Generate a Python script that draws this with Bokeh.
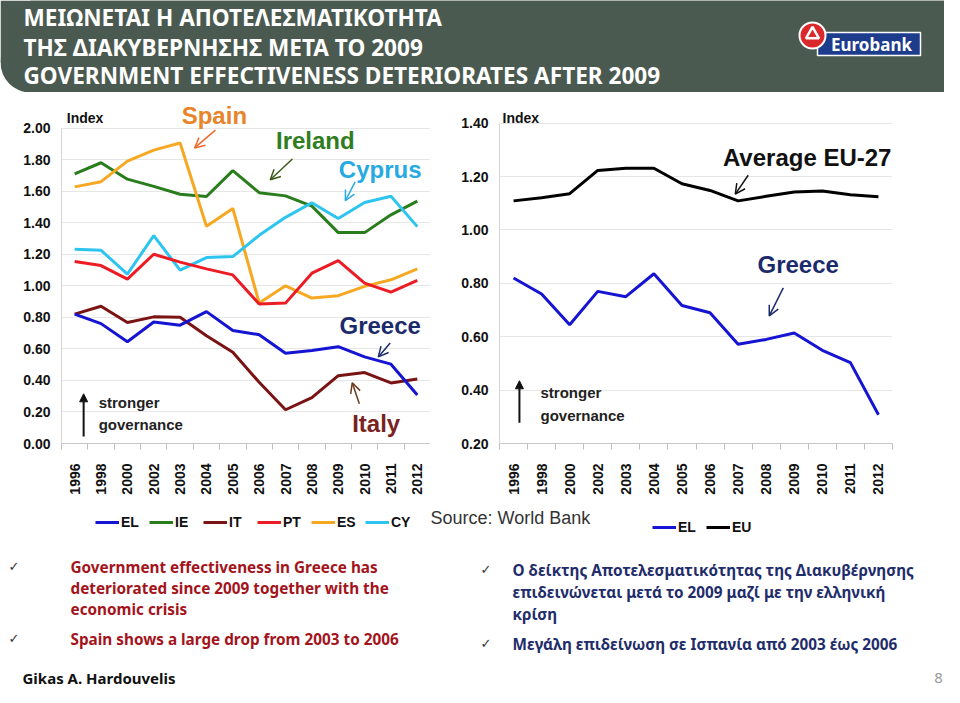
import math
from bokeh.plotting import figure
from bokeh.models import (Range1d, FixedTicker, Label, Arrow, OpenHead, NormalHead,
                          Legend, LegendItem, NumeralTickFormatter)
from bokeh.layouts import column, row
from bokeh.embed import file_html
from bokeh.resources import INLINE

# ---------------- data ----------------
years = ["1996", "1998", "2000", "2002", "2003", "2004", "2005", "2006",
         "2007", "2008", "2009", "2010", "2011", "2012"]
el = [0.82, 0.76, 0.645, 0.77, 0.75, 0.836, 0.717, 0.69, 0.572, 0.59, 0.614, 0.549, 0.503, 0.308]
ie = [1.71, 1.78, 1.676, 1.63, 1.58, 1.566, 1.73, 1.59, 1.57, 1.505, 1.337, 1.337, 1.45, 1.537]
it = [0.82, 0.87, 0.767, 0.803, 0.80, 0.683, 0.579, 0.388, 0.214, 0.291, 0.43, 0.45, 0.384, 0.409]
pt = [1.154, 1.128, 1.042, 1.20, 1.15, 1.107, 1.069, 0.885, 0.89, 1.08, 1.16, 1.017, 0.96, 1.034]
es = [1.627, 1.66, 1.79, 1.86, 1.905, 1.377, 1.49, 0.891, 1.0, 0.922, 0.937, 0.996, 1.038, 1.107]
cy = [1.232, 1.225, 1.074, 1.318, 1.099, 1.179, 1.185, 1.32, 1.434, 1.526, 1.427, 1.528, 1.568, 1.375]
eu = [1.109, 1.121, 1.136, 1.223, 1.231, 1.231, 1.173, 1.148, 1.109, 1.126, 1.142, 1.146, 1.132, 1.124]

left_ticks = [0.0, 0.2, 0.4, 0.6, 0.8, 1.0, 1.2, 1.4, 1.6, 1.8, 2.0]
right_ticks = [0.2, 0.4, 0.6, 0.8, 1.0, 1.2, 1.4]

left_series = [("EL", el, "#1414d2"), ("IE", ie, "#2a7d1c"), ("IT", it, "#7a1414"),
               ("PT", pt, "#ec1c24"), ("ES", es, "#f7a823"), ("CY", cy, "#2ec4f0")]
right_series = [("EL", el, "#1414d2"), ("EU", eu, "#000000")]

title_lines = ["ΜΕΙΩΝΕΤΑΙ Η ΑΠΟΤΕΛΕΣΜΑΤΙΚΟΤΗΤΑ",
               "ΤΗΣ ΔΙΑΚΥΒΕΡΝΗΣΗΣ  ΜΕΤΑ ΤΟ 2009",
               "GOVERNMENT EFFECTIVENESS DETERIORATES AFTER 2009"]
bullets_en = ["Government effectiveness in Greece has",
              "deteriorated since 2009  together with the",
              "economic crisis",
              "Spain shows a large drop from 2003 to 2006"]
bullets_gr = ["Ο δείκτης Αποτελεσματικότητας της Διακυβέρνησης",
              "επιδεινώνεται μετά το 2009 μαζί με την ελληνική",
              "κρίση",
              "Μεγάλη επιδείνωση σε Ισπανία από 2003 έως 2006"]

FONT = "Liberation Sans"
SLIDE_FONT = "Noto Sans"
idx = list(range(len(years)))
NAN = float("nan")


def make_chart(width, height, yr, ybounds, yticks, borders):
    p = figure(width=width, height=height,
               x_range=Range1d(-0.5, len(years) - 0.5), y_range=Range1d(*yr),
               output_backend="svg", toolbar_location=None,
               min_border_left=borders[0], min_border_right=borders[1],
               min_border_top=borders[2], min_border_bottom=borders[3])
    p.outline_line_color = None
    p.background_fill_color = "white"
    p.border_fill_color = "white"
    p.xgrid.visible = False
    p.ygrid.ticker = FixedTicker(ticks=yticks)
    p.ygrid.grid_line_color = "#e6e6e6"
    xa = p.xaxis[0]
    xa.ticker = FixedTicker(ticks=idx, minor_ticks=[i - 0.5 for i in range(len(years) + 1)])
    xa.major_label_overrides = {i: y for i, y in enumerate(years)}
    xa.major_label_orientation = math.pi / 2
    xa.major_tick_line_color = None
    xa.major_tick_out = 0
    xa.major_tick_in = 0
    xa.minor_tick_line_color = "#c0c0c0"
    xa.minor_tick_out = 6
    xa.minor_tick_in = 0
    xa.axis_line_color = "#c8c8c8"
    xa.major_label_standoff = 14
    xa.major_label_text_font = FONT
    xa.major_label_text_font_style = "bold"
    xa.major_label_text_font_size = "14px"
    xa.major_label_text_color = "#111111"
    ya = p.yaxis[0]
    ya.ticker = FixedTicker(ticks=yticks)
    ya.formatter = NumeralTickFormatter(format="0.00")
    ya.bounds = ybounds
    ya.axis_line_color = "#d4d4d4"
    ya.major_tick_line_color = None
    ya.minor_tick_line_color = None
    ya.major_tick_out = 0
    ya.major_label_standoff = 11
    ya.major_label_text_font = FONT
    ya.major_label_text_font_style = "bold"
    ya.major_label_text_font_size = "14px"
    ya.major_label_text_color = "#111111"
    return p


def add_label(p, text, x, y, color, size="24px", align="center", style="bold", font=FONT,
              baseline="middle"):
    p.add_layout(Label(x=x, y=y, text=text, text_color=color, text_font=font,
                       text_font_size=size, text_font_style=style,
                       text_align=align, text_baseline=baseline))


def add_arrow(p, xs, ys, xe, ye, color, width=1.5, filled=False):
    if filled:
        head = NormalHead(size=8, fill_color=color, line_color=color)
    else:
        head = OpenHead(size=10, line_color=color, line_width=width)
    p.add_layout(Arrow(end=head, x_start=xs, y_start=ys, x_end=xe, y_end=ye,
                       line_color=color, line_width=width))


def add_legend(p, renderers, labels, loc):
    items = [LegendItem(label=l, renderers=[r]) for l, r in zip(labels, renderers)]
    lg = Legend(items=items, orientation="horizontal", location=loc,
                border_line_color=None, background_fill_alpha=0,
                label_text_font=FONT, label_text_font_size="14px",
                label_text_font_style="bold",
                label_text_color="#111111", glyph_width=24, glyph_height=14,
                label_standoff=2, spacing=8, padding=0, margin=0)
    p.add_layout(lg, "center")


# ---------------- banner ----------------
banner = figure(width=944, height=92, x_range=Range1d(0, 944), y_range=Range1d(92, 0),
                output_backend="svg", toolbar_location=None,
                x_axis_type=None, y_axis_type=None, min_border=0)
banner.outline_line_color = None
banner.grid.visible = False
BAN = "#4b5a50"
banner.quad(left=[0], right=[956], top=[0], bottom=[62], fill_color=BAN, line_color=None)
banner.quad(left=[30], right=[956], top=[0], bottom=[93], fill_color=BAN, line_color=None)
banner.circle(x=[30], y=[62], radius=30, fill_color=BAN, line_color=None)
for txt, yb in zip(title_lines, [17, 47, 75]):
    add_label(banner, txt, 23, yb, "white", size="22.6px", align="left", style="bold",
              font=SLIDE_FONT, baseline="alphabetic")
# logo
banner.quad(left=[817], right=[920], top=[32], bottom=[55], fill_color="#1d3c8c",
            line_color="white", line_width=1.5)
add_label(banner, "Eurobank", 871, 44, "white", size="17px", font=SLIDE_FONT)
banner.circle(x=[812], y=[35], radius=13, fill_color="#d9292c", line_color="white", line_width=2)
banner.scatter(x=[812], y=[34], marker="triangle", size=13, fill_color=None,
               line_color="white", line_width=2.5)

# ---------------- left chart ----------------
p1 = make_chart(430, 408, (0, 2.2), (0, 2), left_ticks, (61, 0, 2, 57))
for name, vals, col in [left_series[1], left_series[4], left_series[5], left_series[3],
                        left_series[2], left_series[0]]:
    p1.line(idx, vals, line_color=col, line_width=3)

add_label(p1, "Index", -0.3, 2.063, "#111111", size="14px", align="left")
add_label(p1, "Spain", 5.3, 2.08, "#e8842a")
add_arrow(p1, 5.34, 1.987, 4.55, 1.874, "#f06a2a")
add_label(p1, "Ireland", 9.13, 1.924, "#2f7d1f")
add_arrow(p1, 8.26, 1.804, 7.42, 1.672, "#3d5a1a")
add_label(p1, "Cyprus", 11.59, 1.735, "#27aae1")
add_arrow(p1, 10.64, 1.659, 10.27, 1.539, "#27aae1")
add_label(p1, "Greece", 11.59, 0.751, "#1b2a6b")
add_arrow(p1, 11.97, 0.637, 11.52, 0.549, "#1b2a6b")
add_label(p1, "Italy", 11.44, 0.126, "#7a2222")
add_arrow(p1, 10.8, 0.252, 10.53, 0.385, "#6b3a1a")
add_arrow(p1, 0.34, 0.044, 0.34, 0.315, "#111111", width=2, filled=True)
add_label(p1, "stronger", 0.91, 0.259, "#222222", size="15px", align="left")
add_label(p1, "governance", 0.91, 0.120, "#222222", size="15px", align="left")

# ---------------- right chart ----------------
p2 = make_chart(514, 408, (0.2, 1.5), (0.2, 1.4), right_ticks, (69, 52, 4, 56))
for name, vals, col in right_series:
    p2.line(idx, vals, line_color=col, line_width=3)

add_label(p2, "Index", -0.39, 1.421, "#111111", size="14px", align="left")
add_label(p2, "Average EU-27", 10.46, 1.272, "#111111")
add_arrow(p2, 8.36, 1.205, 7.9, 1.134, "#111111")
add_label(p2, "Greece", 10.14, 0.872, "#1b2a6b")
add_arrow(p2, 9.61, 0.783, 9.11, 0.678, "#1b2a6b")
add_arrow(p2, 0.21, 0.278, 0.21, 0.435, "#111111", width=2, filled=True)
add_label(p2, "stronger", 0.96, 0.392, "#222222", size="15px", align="left")
add_label(p2, "governance", 0.96, 0.306, "#222222", size="15px", align="left")

# ---------------- bottom: legends, source, bullets ----------------
bottom = figure(width=944, height=187, x_range=Range1d(0, 944), y_range=Range1d(687, 500),
                output_backend="svg", toolbar_location=None,
                x_axis_type=None, y_axis_type=None, min_border=0)
bottom.outline_line_color = None
bottom.grid.visible = False

# legend keys: renderers that carry each series' line style (no visible data)
lk = {name: bottom.line(x=[NAN], y=[NAN], line_color=col, line_width=3)
      for name, _, col in left_series}
add_legend(bottom, [lk[n] for n, _, _ in left_series], [n for n, _, _ in left_series], (95, 157))
rk = {name: bottom.line(x=[NAN], y=[NAN], line_color=col, line_width=3)
      for name, _, col in right_series}
add_legend(bottom, [rk[n] for n, _, _ in right_series], [n for n, _, _ in right_series], (652, 152))

add_label(bottom, "Source: World Bank", 430, 517, "#333333", size="18px",
          align="left", style="normal")

EN_COL = "#a3141c"
GR_COL = "#1f2d6b"
for txt, yy in zip(bullets_en, [566, 587, 608, 638]):
    add_label(bottom, txt, 70, yy, EN_COL, size="15.3px", align="left", font=SLIDE_FONT)
for txt, yy in zip(bullets_gr, [569, 591, 613, 643]):
    add_label(bottom, txt, 512, yy, GR_COL, size="15.3px", align="left", font=SLIDE_FONT)
for xx, yy in [(8, 566), (8, 638), (480, 569), (480, 643)]:
    add_label(bottom, "✓", xx, yy, "#333333", size="13px", align="left",
              style="normal", font="DejaVu Sans")
add_label(bottom, "Gikas A. Hardouvelis", 22, 677, "#111111", size="15px",
          align="left", style="bold", font=SLIDE_FONT)
add_label(bottom, "8", 938, 677, "#9a9a9a", size="15px", align="center",
          style="normal", font=SLIDE_FONT)

layout = column(banner, row(p1, p2), bottom)
with open("out.html", "w") as f:
    f.write(file_html(layout, INLINE))
